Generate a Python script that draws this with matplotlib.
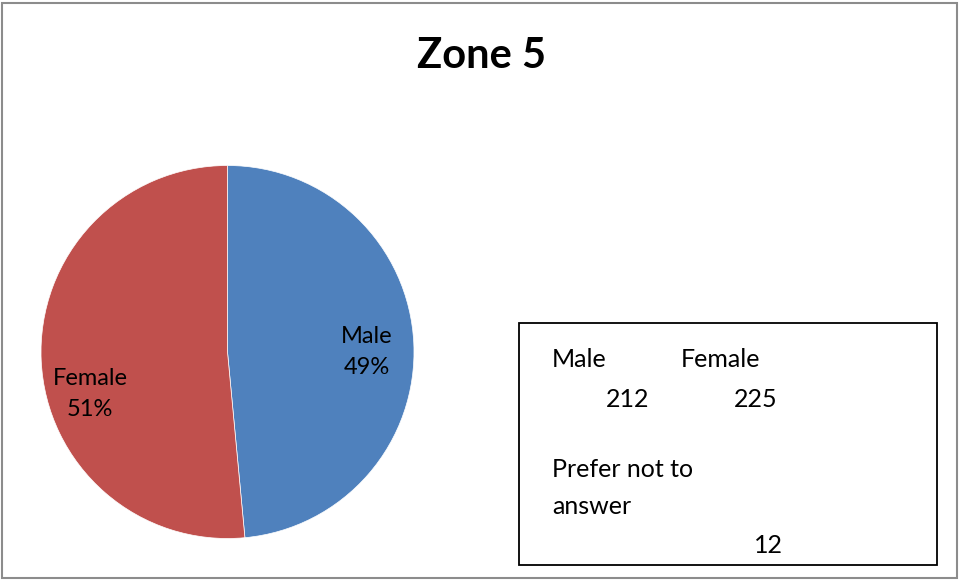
import matplotlib
matplotlib.use("Agg")
import matplotlib.pyplot as plt
from matplotlib.patches import Rectangle

plt.rcParams['font.family'] = ['Lato', 'DejaVu Sans']

# data
labels = ["Male", "Female"]
counts = [212, 225]
colors = ["#4F81BD", "#C0504D"]
other_label = "Prefer not to\nanswer"
other_count = 12
title = "Zone 5"

W, H = 959, 580
fig = plt.figure(figsize=(W/100, H/100), dpi=100)

def fx(px):
    return px / W

def fy(py):
    return 1 - py / H

# outer chart border
fig.patches.append(Rectangle((fx(1.5), fy(577.5)), fx(955), 575/H, transform=fig.transFigure,
                             fill=False, ec="#8c8c8c", lw=1.5))

fig.text(fx(481), fy(68), title, ha="center", va="baseline", fontsize=30, fontweight="bold")

# pie: centre (227.5, 352), radius 186.5 px
cx, cy, r = 227.5, 352, 186.5
ax = fig.add_axes([fx(cx - r), fy(cy + r), 2*r/W, 2*r/H])
wedges, _ = ax.pie(counts, colors=colors, startangle=90, counterclock=False,
                   wedgeprops=dict(edgecolor="white", linewidth=0.5))
ax.set_xlim(-1, 1)
ax.set_ylim(-1, 1)
ax.set_aspect("equal")
ax.axis("off")

total = sum(counts)
# label anchor (centre x, baseline of last line) in pie units
label_pos = [(0.745, -0.118), (-0.737, -0.342)]
for name, n, (x, y) in zip(labels, counts, label_pos):
    ax.text(x, y, "{0}\n{1:.0f}%".format(name, 100*n/total), ha="center", va="baseline",
            fontsize=17, linespacing=1.6)

# text box with counts
fig.patches.append(Rectangle((fx(519), fy(565)), fx(418), 242/H, transform=fig.transFigure,
                             fill=False, ec="black", lw=1.3))
fs = 18
fig.text(fx(552), fy(367), labels[0], fontsize=fs, va="baseline")
fig.text(fx(681), fy(367), labels[1], fontsize=fs, va="baseline")
fig.text(fx(606), fy(407), str(counts[0]), fontsize=fs, va="baseline")
fig.text(fx(734), fy(407), str(counts[1]), fontsize=fs, va="baseline")
for line, base in zip(other_label.split("\n"), [477, 514]):
    fig.text(fx(552), fy(base), line, fontsize=fs, va="baseline")
fig.text(fx(754), fy(553), str(other_count), fontsize=fs, va="baseline")

fig.savefig("out.png", dpi=100)
